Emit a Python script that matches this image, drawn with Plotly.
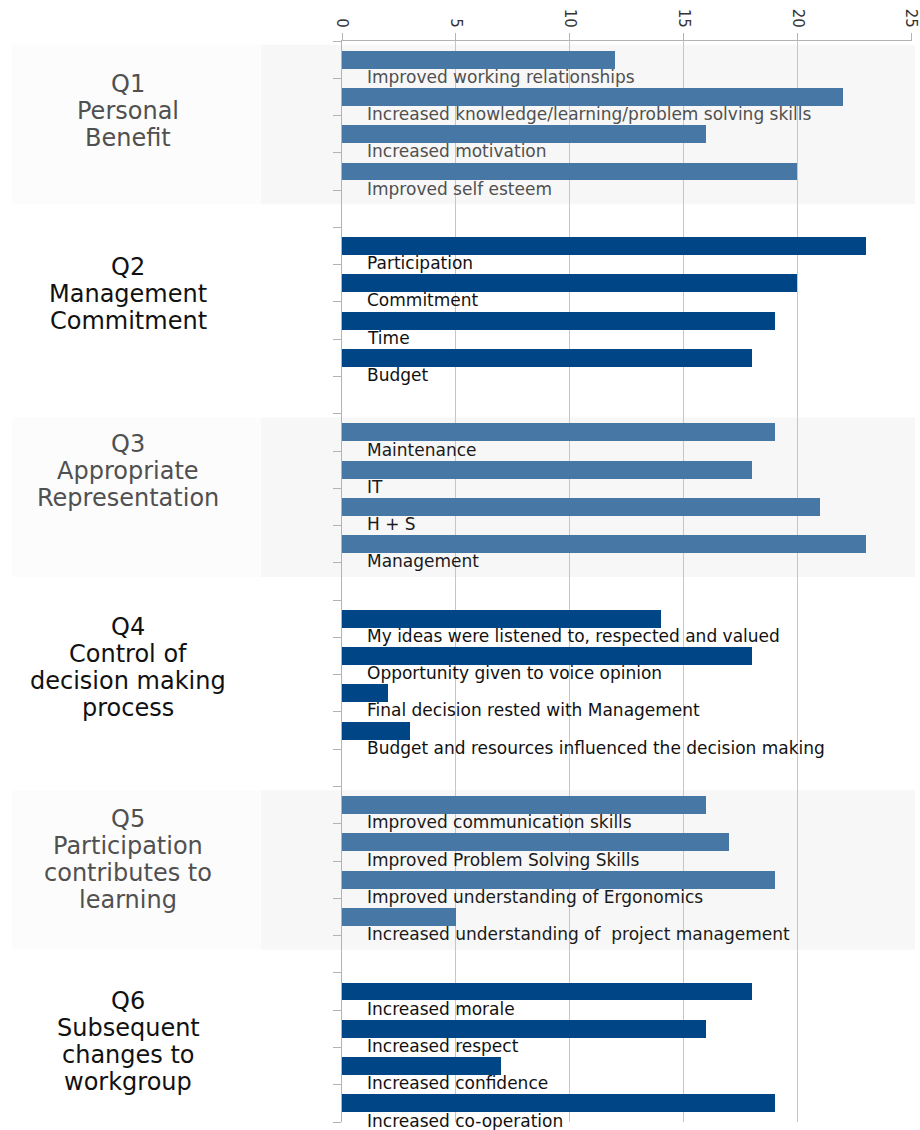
import plotly.graph_objects as go

# ---- data ----
group_titles = [
    ["Q1", "Personal", "Benefit"],
    ["Q2", "Management", "Commitment"],
    ["Q3", "Appropriate", "Representation"],
    ["Q4", "Control of", "decision making", "process"],
    ["Q5", "Participation", "contributes to", "learning"],
    ["Q6", "Subsequent", "changes to", "workgroup"],
]
item_labels = [
    ["Improved working relationships",
     "Increased knowledge/learning/problem solving skills",
     "Increased motivation",
     "Improved self esteem"],
    ["Participation", "Commitment", "Time", "Budget"],
    ["Maintenance", "IT", "H + S", "Management"],
    ["My ideas were listened to, respected and valued",
     "Opportunity given to voice opinion",
     "Final decision rested with Management",
     "Budget and resources influenced the decision making"],
    ["Improved communication skills",
     "Improved Problem Solving Skills",
     "Improved understanding of Ergonomics",
     "Increased understanding of  project management"],
    ["Increased morale", "Increased respect",
     "Increased confidence", "Increased co-operation"],
]
item_values = [
    [12, 22, 16, 20],
    [23, 20, 19, 18],
    [19, 18, 21, 23],
    [14, 18, 2, 3],
    [16, 17, 19, 5],
    [18, 16, 7, 19],
]
x_ticks = [0, 5, 10, 15, 20, 25]

# ---- style / layout ----
W, H = 920, 1130
ML, MR, MT, MB = 342, 8, 41, 8
FONT = "DejaVu Sans, Liberation Sans, sans-serif"
bar_colors = ["#4677a5", "#004586"]
title_colors = ["#505050", "#111111"]
label_colors = ["#505050", "#111111", "#1a1a1a", "#111111", "#1a1a1a", "#111111"]
title_centers = [1.38, 1.29, 1.04, 1.30, 1.45, 1.33]  # offset from group start, slot units
SLOTS_PER_GROUP = 5
n_slots = SLOTS_PER_GROUP * len(item_values) - 1
plot_h = H - MT - MB
slot_px = plot_h / n_slots
plot_w = W - ML - MR

fig = go.Figure()
annotations = []
shapes = []

def ypaper(yv):
    return 1 - (yv + 0.5) / n_slots

for g, (vals, labs) in enumerate(zip(item_values, item_labels)):
    start = g * SLOTS_PER_GROUP
    ys = [start + k for k in range(len(vals))]
    fig.add_trace(go.Bar(
        x=vals, y=ys, orientation="h", width=0.48,
        marker=dict(color=bar_colors[g % 2], line=dict(width=0)),
        showlegend=False, hoverinfo="x",
    ))
    for yv, lab in zip(ys, labs):
        annotations.append(dict(
            x=1.0, y=yv + 0.46, xref="x", yref="y", text=lab,
            showarrow=False, xanchor="left", yanchor="middle",
            font=dict(family=FONT, size=17, color=label_colors[g]),
        ))
    lines = group_titles[g]
    line_gap = 27 / slot_px
    c = start + title_centers[g]
    for li, line in enumerate(lines):
        yy = c + (li - (len(lines) - 1) / 2) * line_gap
        annotations.append(dict(
            x=(128 - ML) / plot_w, y=yy, xref="paper", yref="y", text=line,
            showarrow=False, xanchor="center", yanchor="middle",
            font=dict(family=FONT, size=24, color=title_colors[g % 2]),
        ))
    if g % 2 == 0:
        y0 = ypaper(start - 0.4)
        y1 = ypaper(start + 3.88)
        shapes.append(dict(type="rect", xref="paper", yref="paper",
                           x0=(12 - ML) / plot_w, x1=(261 - ML) / plot_w,
                           y0=y1, y1=y0, fillcolor="#fcfcfc",
                           line=dict(width=0), layer="below"))
        shapes.append(dict(type="rect", xref="paper", yref="paper",
                           x0=(261 - ML) / plot_w, x1=(915 - ML) / plot_w,
                           y0=y1, y1=y0, fillcolor="#f7f7f7",
                           line=dict(width=0), layer="below"))

fig.update_layout(
    width=W, height=H,
    margin=dict(l=ML, r=MR, t=MT, b=MB, pad=0, autoexpand=False),
    paper_bgcolor="white", plot_bgcolor="rgba(0,0,0,0)",
    bargap=0, showlegend=False,
    annotations=annotations, shapes=shapes,
    xaxis=dict(
        side="top", range=[0, 25.03], tickvals=x_ticks,
        ticktext=[str(t) for t in x_ticks], tickangle=90,
        ticklabeloverflow="allow", automargin=False,
        ticks="outside", ticklen=7, tickcolor="#b3b3b3",
        showgrid=True, gridcolor="#c6c6c6", gridwidth=1,
        showline=True, linecolor="#b3b3b3", linewidth=1,
        zeroline=False,
        tickfont=dict(family=FONT, size=15, color="#333333"),
        fixedrange=True,
    ),
    yaxis=dict(
        range=[n_slots - 0.5, -0.5],
        tickvals=[i - 0.5 for i in range(n_slots + 1)],
        showticklabels=False, automargin=False,
        ticks="outside", ticklen=8, tickcolor="#b3b3b3",
        showgrid=False, zeroline=False,
        showline=True, linecolor="#b3b3b3", linewidth=1,
        fixedrange=True,
    ),
)

fig.write_html("out.html")
